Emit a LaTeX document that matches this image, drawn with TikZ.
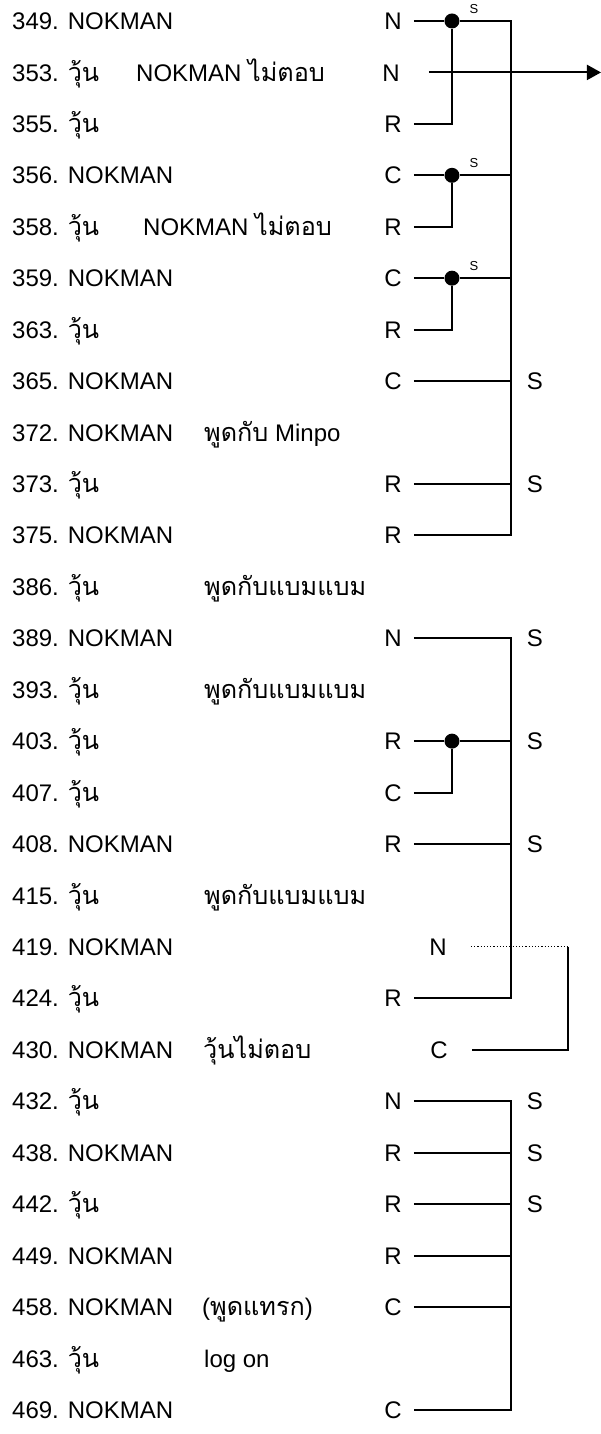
\documentclass[tikz,border=0pt]{standalone}
\usepackage{fontspec}
\setmainfont{Liberation Sans}
\newfontfamily\thaifont[Script=Thai, Scale=1.05]{Loma}
\usetikzlibrary{arrows.meta}
\newcommand\thaitxt[1]{{\thaifont #1}}
\newcommand\wun{\thaitxt{วุ้น}}

\begin{document}
\begin{tikzpicture}[x=1pt, y=-51.44pt,
  every node/.style={font=\fontsize{24}{27}\selectfont, inner sep=0pt, text height=17.2pt, text depth=0pt},
  row/.style={anchor=west},
  code/.style={anchor=east, inner xsep=12pt},
  link/.style={line width=2pt},
  dot/.style={circle, fill=black, minimum size=15pt, text height=0pt, text depth=0pt},
  small/.style={font=\fontsize{13}{15}\selectfont, text height=9.3pt}]
\useasboundingbox (0,0.592) rectangle (601,28.47);

% turns, left column
\foreach \num/\who [count=\i] in {349/NOKMAN, 353/\wun, 355/\wun, 356/NOKMAN, 358/\wun, 359/NOKMAN, 363/\wun, 365/NOKMAN, 372/NOKMAN, 373/\wun, 375/NOKMAN, 386/\wun, 389/NOKMAN, 393/\wun, 403/\wun, 407/\wun, 408/NOKMAN, 415/\wun, 419/NOKMAN, 424/\wun, 430/NOKMAN, 432/\wun, 438/NOKMAN, 442/\wun, 449/NOKMAN, 458/NOKMAN, 463/\wun, 469/NOKMAN}
  \node[row] (t\i) at (12,\i) {\num. \who};

% notes
\node[row] (n2) at (136,2) {NOKMAN \thaitxt{ไม่ตอบ}};
\node[row] (n5) at (143,5) {NOKMAN \thaitxt{ไม่ตอบ}};
\node[row] (n9) at (204,9) {\thaitxt{พูดกับ} Minpo};
\foreach \r in {12,14,18}
  \node[row] (n\r) at (204,\r) {\thaitxt{พูดกับแบมแบม}};
\node[row] (n21) at (203,21) {\thaitxt{วุ้นไม่ตอบ}};
\node[row] (n26) at (202,26) {(\thaitxt{พูดแทรก})};
\node[row] (n27) at (204,27) {log on};

% codes
\foreach \r/\c in {1/N, 3/R, 4/C, 5/R, 6/C, 7/R, 8/C, 10/R, 11/R, 13/N, 15/R, 16/C, 17/R, 20/R, 22/N, 23/R, 24/R, 25/R, 26/C, 28/C}
  \node[code] (c\r) at (414,\r) {\c};
\node[code, inner xsep=29pt] (c2) at (429,2) {N};
\node[code, inner xsep=24pt] (c19) at (471,19) {N};
\node[code, inner xsep=24pt] (c21) at (472,21) {C};

% S marks
\foreach \r in {8,10,13,15,17,22,23,24}
  \node (S\r) at (535,\r) {S};
\foreach \r in {1,4,6}
  \node[small] (s\r) at (474,\r-0.24) {S};

% junctions
\foreach \r in {1,4,6,15}
  \node[dot] (d\r) at (452,\r) {};
\coordinate (busA) at (511,1);
\coordinate (busB) at (511,13);
\coordinate (busC) at (511,22);
\coordinate (tip) at (601,2);
\coordinate (loop) at (568,19);

% first block
\draw[link] (c1.east) -- (d1);
\draw[link] (d1) -- (d1 -| busA) |- (c11.east);
\draw[link] (c3.east) -| (d1);
\draw[link] (c4.east) -- (d4) -- (d4 -| busA);
\draw[link] (c5.east) -| (d4);
\draw[link] (c6.east) -- (d6) -- (d6 -| busA);
\draw[link] (c7.east) -| (d6);
\draw[link] (c8.east) -- (c8.east -| busA);
\draw[link] (c10.east) -- (c10.east -| busA);
\draw[link, ->, >={Triangle[length=14pt,width=15pt]}] (c2.east) -- (tip);

% second block
\draw[link] (c13.east) -- (c13.east -| busB) |- (c20.east);
\draw[link] (c15.east) -- (d15) -- (d15 -| busB);
\draw[link] (c16.east) -| (d15);
\draw[link] (c17.east) -- (c17.east -| busB);
\draw[dotted, line width=1.2pt] (c19.east) -- (loop);
\draw[link] (loop) |- (c21.east);

% third block
\draw[link] (c22.east) -- (c22.east -| busC) |- (c28.east);
\foreach \r in {23,24,25,26}
  \draw[link] (c\r.east) -- (c\r.east -| busC);
\end{tikzpicture}
\end{document}
